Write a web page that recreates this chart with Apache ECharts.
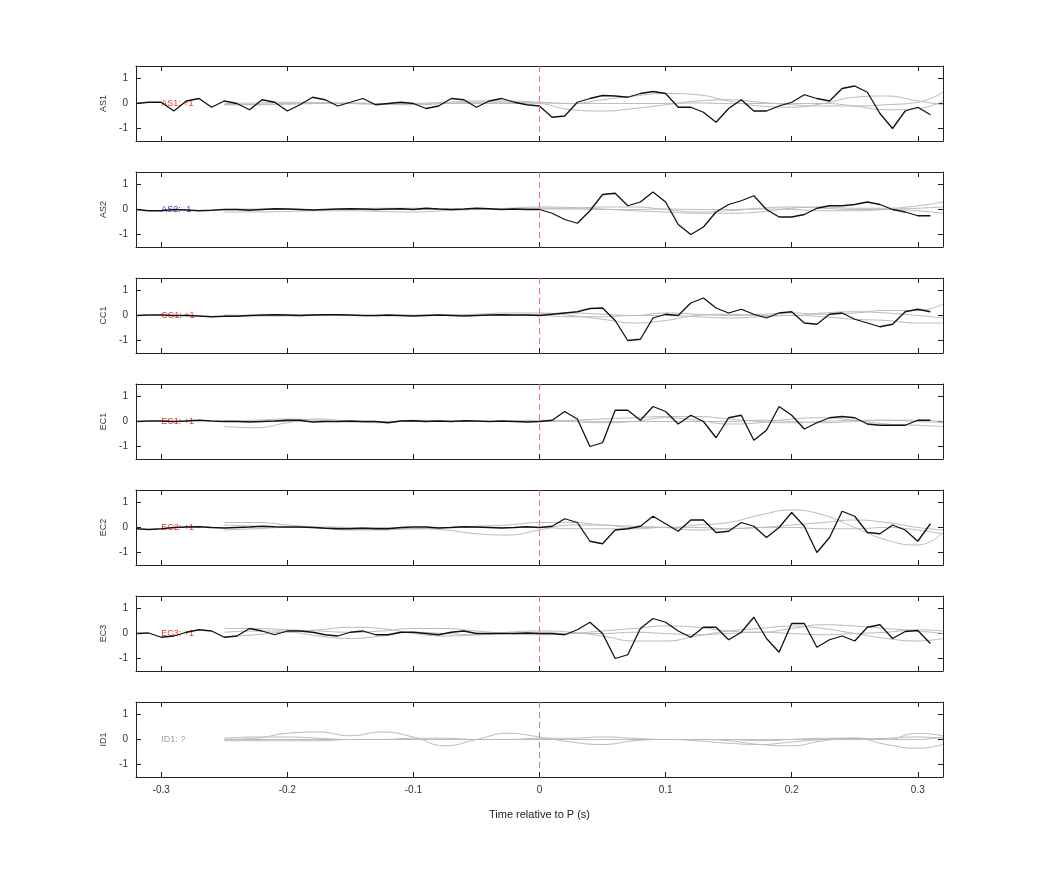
<!DOCTYPE html>
<html>
<head>
<meta charset="utf-8">
<script src="https://cdn.jsdelivr.net/npm/echarts@6/dist/echarts.min.js"></script>
<style>html,body{margin:0;background:#fff}#main{width:1042px;height:875px}</style>
</head>
<body>
<div id="main"></div>
<script>
var chart = echarts.init(document.getElementById('main'));

// stations, labels and label colours
var stations = ['AS1', 'AS2', 'CC1', 'EC1', 'EC2', 'EC3', 'ID1'];
var tags = ['AS1: +1', 'AS2: -1', 'CC1: +1', 'EC1: +1', 'EC2: +1', 'EC3: +1', 'ID1: ?'];
var tagColors = ['#e00', '#00c', '#e00', '#e00', '#e00', '#e00', '#888'];
var xTicks = [-0.3, -0.2, -0.1, 0, 0.1, 0.2, 0.3];
var yTicks = [-1, 0, 1];

// sample times of the black (stacked) trace: -0.32 .. 0.31
var tBlack = [-0.32,-0.31,-0.30,-0.29,-0.28,-0.27,-0.26,-0.25,-0.24,-0.23,-0.22,-0.21,-0.20,-0.19,-0.18,-0.17,
  -0.16,-0.15,-0.14,-0.13,-0.12,-0.11,-0.10,-0.09,-0.08,-0.07,-0.06,-0.05,-0.04,-0.03,-0.02,-0.01,
  0,0.01,0.02,0.03,0.04,0.05,0.06,0.07,0.08,0.09,0.10,0.11,0.12,0.13,0.14,0.15,
  0.16,0.17,0.18,0.19,0.20,0.21,0.22,0.23,0.24,0.25,0.26,0.27,0.28,0.29,0.30,0.31];

var blackAS1 = [0,0.05,0.05,-0.3,0.1,0.2,-0.15,0.1,0,-0.25,0.15,0.05,-0.3,-0.05,0.25,0.15,
  -0.1,0.05,0.2,-0.05,0,0.05,0,-0.2,-0.1,0.2,0.15,-0.15,0.1,0.2,0.05,-0.05,
  -0.1,-0.55,-0.5,0.05,0.2,0.32,0.3,0.25,0.4,0.48,0.4,-0.15,-0.15,-0.35,-0.75,-0.2,
  0.15,-0.3,-0.3,-0.1,0.05,0.35,0.2,0.1,0.6,0.7,0.45,-0.4,-1.0,-0.3,-0.15,-0.45];
var blackAS2 = [0,-0.05,-0.05,0,-0.02,-0.05,-0.03,0,0,-0.03,0,0.03,0.02,0,-0.02,0,
  0.02,0.03,0.02,0,0.02,0.03,0,0.05,0.02,0,0.02,0.05,0.03,0,0.02,0,
  0,-0.15,-0.4,-0.55,-0.05,0.6,0.65,0.15,0.3,0.7,0.3,-0.6,-1.0,-0.7,-0.1,0.2,
  0.35,0.55,0,-0.3,-0.3,-0.2,0.05,0.15,0.15,0.2,0.3,0.2,0,-0.1,-0.25,-0.25];
var blackCC1 = [0,0.02,0.02,0,0,-0.02,-0.05,-0.03,-0.03,0,0.02,0.03,0.02,0,0.02,0.03,
  0.03,0.02,0,0,0.02,0,-0.02,0,0.02,0,-0.02,0,0.02,0.03,0.02,0.02,
  0,0.05,0.1,0.15,0.28,0.3,-0.2,-1.0,-0.95,-0.1,0.05,0,0.5,0.7,0.3,0.1,
  0.25,0.05,-0.1,0.1,0.15,-0.3,-0.35,0.05,0.1,-0.15,-0.3,-0.45,-0.35,0.15,0.25,0.15];
var blackEC1 = [0,0.02,0.02,0,0.02,0.05,0.02,0,0,-0.02,0,0.02,0.05,0.05,-0.02,0,
  0,0.02,0,0,-0.05,0.02,0.03,0,0.02,0,0.03,0.02,0,0.02,0,-0.02,
  0,0.05,0.4,0.1,-1.0,-0.85,0.45,0.45,0.05,0.6,0.4,-0.1,0.25,0,-0.65,0.15,
  0.25,-0.75,-0.35,0.6,0.25,-0.3,-0.05,0.15,0.2,0.15,-0.1,-0.15,-0.15,-0.15,0.05,0.05];
var blackEC2 = [-0.05,-0.08,-0.05,0,0.02,0.03,0,-0.02,0,0.02,0.05,0.03,0.02,0.02,0,-0.03,
  -0.05,-0.05,-0.03,-0.05,-0.05,0,0.02,0.02,-0.02,0,0.03,0.02,0,-0.02,0,0.03,
  0,0.05,0.35,0.2,-0.55,-0.65,-0.1,-0.05,0.05,0.45,0.15,-0.15,0.3,0.3,-0.2,-0.15,
  0.2,0.05,-0.4,0,0.6,0.05,-1.0,-0.4,0.65,0.45,-0.2,-0.25,0.1,-0.1,-0.55,0.15];
var blackEC3 = [0,0.02,-0.15,-0.1,0.05,0.15,0.1,-0.15,-0.1,0.2,0.1,-0.05,0.1,0.1,0.05,-0.05,
  -0.1,0.05,0.1,-0.05,-0.05,0.05,0.05,0,-0.05,0.05,0.1,0,0,0,0,0.02,
  0,0,-0.05,0.15,0.45,0,-1.0,-0.85,0.2,0.6,0.45,0.1,-0.15,0.25,0.25,-0.25,
  0.05,0.65,-0.2,-0.75,0.4,0.4,-0.55,-0.25,-0.1,-0.3,0.25,0.35,-0.2,0.08,0.12,-0.4];
var blacks = [blackAS1, blackAS2, blackCC1, blackEC1, blackEC2, blackEC3, null];

// sample times of the grey (individual event) traces
var tGrey = [-0.25,-0.225,-0.2,-0.175,-0.15,-0.125,-0.1,-0.075,-0.05,-0.025,0,0.025,
  0.05,0.075,0.1,0.125,0.15,0.175,0.2,0.225,0.25,0.275,0.3,0.32];

var greyAS1 = [
  [-0.05,-0.03,0,0.02,0,-0.03,-0.05,0,0.05,0.05,0,-0.25,-0.3,-0.2,-0.05,0.1,0.15,0.05,-0.05,-0.1,-0.1,-0.05,0.05,0.45],
  [0,0.02,0.05,0.03,0,-0.02,0,0.05,0.1,0.1,0.05,0,0.15,0.3,0.4,0.35,0.1,-0.1,-0.15,0,0.25,0.3,0.1,-0.05],
  [-0.05,-0.05,-0.03,0,0.02,0,-0.02,0,0,0,0.02,0,0,0,0,0.02,0,0,0,0,-0.1,-0.25,-0.2,0.1]];
var greyAS2 = [
  [-0.1,-0.1,-0.08,-0.05,-0.05,-0.08,-0.1,-0.05,0,0.05,0.1,0.08,0.02,-0.05,-0.1,-0.15,-0.15,-0.1,0.05,0.1,0.05,0.05,0.15,0.3],
  [0,0.02,0.02,0,0.02,0.05,0.05,0.02,0,0.02,0.05,0.05,0.1,0.1,0,-0.1,-0.05,0.05,0.1,0.05,0,0,-0.05,-0.15],
  [-0.02,0,0,0,0,0,0,0,0,0,0.02,0.02,0,0,0.02,0,0,0.02,0,-0.05,-0.05,0,0.05,0.1]];
var greyCC1 = [
  [0,-0.02,0,0.02,0,-0.02,0,0.02,0.05,0.1,0.1,0,-0.15,-0.3,-0.2,0,0.05,0,0,0.1,0.15,0.1,0,-0.1],
  [0,0,0.02,0.02,0,0,0.02,0.02,0,0,0.05,0.1,0.05,0,0.1,0.05,0,0.05,0.1,0.05,0.1,0.2,0.2,0.45],
  [0.02,0,-0.02,0,0,0,0,0,0,0,0,-0.05,-0.05,0,0,-0.05,-0.1,-0.05,0,-0.05,-0.15,-0.2,-0.3,-0.3]];
var greyEC1 = [
  [-0.2,-0.25,-0.05,0.1,0,-0.05,0.05,0.02,0,0,0,0.05,0.1,0.15,0.2,0.2,0.1,0,-0.05,0,0.05,0.05,0,-0.05],
  [0,0.05,0.1,0.05,-0.02,0,0.02,0,0,0.02,0.05,0,-0.05,0,0.15,0.05,-0.1,-0.05,0.1,0.15,0.05,-0.1,-0.15,-0.2],
  [0.05,0,0,0,0,0,0,0,0,0,0,0.02,0,0,0,0,0,0.05,0,-0.05,0,0.05,0.05,0]];
var greyEC2 = [
  [0.2,0.2,0.1,0,-0.1,-0.1,-0.05,-0.1,-0.25,-0.3,-0.1,0.1,0.1,0,0,0.1,0.2,0.5,0.7,0.5,0,-0.5,-0.7,-0.2],
  [0.1,0.05,0,0.02,0,-0.05,-0.05,0,0.05,0.1,0.2,0.2,0.1,0.05,0,-0.1,-0.05,0,0.1,0.2,0.3,0.2,0,-0.1],
  [-0.1,-0.05,0,0,0,0,-0.05,0,0,0,0,-0.05,-0.05,-0.05,0,0,-0.05,0,0,-0.05,-0.05,0,-0.1,-0.25]];
var greyEC3 = [
  [0.2,0.2,0.15,0.1,0.05,0.1,0.2,0.2,0.1,0,-0.05,0,0.1,0.2,0.3,0.25,0.1,0.05,0.2,0.35,0.3,0.2,0.1,0],
  [0.05,0.1,0.1,0.15,0.25,0.2,0,-0.1,-0.05,0.05,0.1,0.05,-0.1,-0.3,-0.3,-0.1,0.1,0.2,0.3,0.2,0,-0.2,-0.3,-0.2],
  [-0.15,-0.05,0.05,-0.1,-0.2,-0.1,0.05,0,-0.05,0,0.02,0,0,0.05,0,-0.05,0,0.05,0,-0.05,0,0.05,0.15,0.1]];
var greyID1 = [
  [0,0.05,0.25,0.3,0.15,0.3,0.1,-0.25,0,0.25,0.1,-0.1,-0.2,-0.05,0,-0.05,-0.15,-0.2,-0.1,0,0.05,0,0.25,0.15],
  [0.05,0.1,0.1,0.05,0,0,0.05,0.05,0,0,0.05,0.05,0.1,0.05,0,0,0,-0.05,0,0.05,0.05,-0.2,-0.35,-0.2],
  [-0.05,-0.05,-0.05,-0.05,0,0,0,0,0,0,0,0,0,0,0,0,-0.05,-0.2,-0.25,-0.05,0.05,0,0,0.1],
  [0,0,0,0,0,0,0,0,0,0,0,0,0,0,0,0,0,0,0,0,0,0.05,0.1,0.05]];
var greys = [greyAS1, greyAS2, greyCC1, greyEC1, greyEC2, greyEC3, greyID1];

function pairs(t, v) { return v.map(function (y, i) { return [t[i], y]; }); }

var grids = [], xAxes = [], yAxes = [], series = [];
var axisLine = { onZero: false, lineStyle: { color: '#222', width: 1 } };
var labelStyle = { color: '#333', fontSize: 10, fontFamily: 'Liberation Sans' };
stations.forEach(function (name, k) {
  grids.push({ left: 136, right: 99, top: 66 + k * 106, height: 75 });
  var last = k === stations.length - 1;
  [0, 1].forEach(function (side) {
    xAxes.push({
      gridIndex: k, type: 'value', min: -0.32, max: 0.32,
      position: side ? 'top' : 'bottom',
      axisLine: axisLine, splitLine: { show: false },
      axisTick: { inside: true, length: 5, customValues: xTicks, lineStyle: { color: '#222' } },
      axisLabel: { show: last && !side, customValues: xTicks, margin: 8, formatter: function (v) { return String(v); }, textStyle: labelStyle },
      name: last && !side ? 'Time relative to P (s)' : '', nameLocation: 'middle', nameGap: 32,
      nameTextStyle: { color: '#222', fontSize: 11, fontFamily: 'Liberation Sans' }
    });
    yAxes.push({
      gridIndex: k, type: 'value', min: -1.5, max: 1.5,
      position: side ? 'right' : 'left',
      axisLine: axisLine, splitLine: { show: false },
      axisTick: { inside: true, length: 5, customValues: yTicks, lineStyle: { color: '#222' } },
      axisLabel: { show: !side, customValues: yTicks, margin: 8, textStyle: labelStyle },
      name: side ? '' : name, nameLocation: 'middle', nameGap: 26, nameRotate: 90,
      nameTextStyle: { color: '#333', fontSize: 9, fontFamily: 'Liberation Sans' }
    });
  });
  var xi = k * 2, yi = k * 2;
  greys[k].forEach(function (g, j) {
    series.push({
      type: 'line', xAxisIndex: xi, yAxisIndex: yi, data: pairs(tGrey, g), smooth: 0.5,
      showSymbol: false, silent: true, lineStyle: { color: '#bbb', width: 1 },
      markLine: j === 0 ? {
        silent: true, symbol: 'none', label: { show: false },
        lineStyle: { color: last ? '#999' : '#e77', type: [6, 4], width: 1 },
        data: [[{ coord: [0, 1.5] }, { coord: [0, -1.2] }]]
      } : undefined
    });
  });
  if (blacks[k]) {
    series.push({
      type: 'line', xAxisIndex: xi, yAxisIndex: yi, data: pairs(tBlack, blacks[k]),
      showSymbol: false, silent: true, lineStyle: { color: '#111', width: 1.3 }
    });
  }
  series.push({
    type: 'scatter', xAxisIndex: xi, yAxisIndex: yi, data: [[-0.3, 0]], symbolSize: 0, silent: true,
    label: { show: true, formatter: tags[k], position: 'inside', align: 'left', color: tagColors[k],
      fontSize: 9, fontFamily: 'Liberation Sans' }
  });
});

var option = {
  backgroundColor: '#fff',
  animation: false,
  grid: grids, xAxis: xAxes, yAxis: yAxes, series: series
};
chart.setOption(option);
</script>
</body>
</html>
